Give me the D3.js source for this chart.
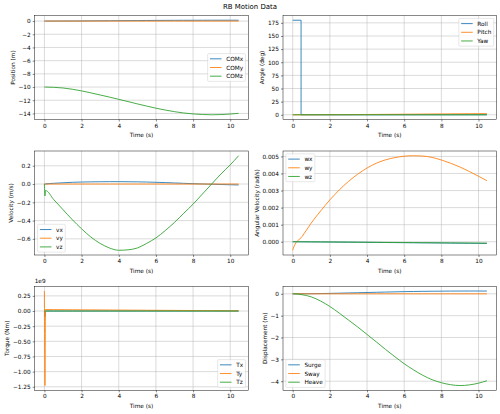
<!DOCTYPE html>
<html>
<head>
<meta charset="utf-8">
<script src="https://cdn.jsdelivr.net/npm/d3@7"></script>
<style>
  body { margin: 0; background: #fff; }
  svg { display: block; font-family: "DejaVu Sans", sans-serif; }
</style>
</head>
<body>
<svg id="chart" width="500" height="414"></svg>
<script>
// sample times (s), shared by most series
const time = [0, 0.03, 0.06, 0.5, 1, 1.5, 2, 2.5, 3, 3.5, 4, 4.5, 5, 5.5, 6, 6.5, 7, 7.5, 8, 8.5, 9, 9.5, 10, 10.45];

const comX = [0, 0, 0, 0.002, 0.006, 0.012, 0.02, 0.03, 0.04, 0.05, 0.06, 0.07, 0.08, 0.09, 0.1, 0.107, 0.113, 0.118, 0.122, 0.125, 0.127, 0.128, 0.128, 0.127];
const comY = [0, 0, 0, 0, 0, 0, 0, 0, 0, 0, 0, 0, 0, 0, 0, 0, 0, 0, 0, 0, 0, 0, 0, 0];
const comZ = [-10, -10, -10, -10.04, -10.14, -10.33, -10.58, -10.88, -11.2, -11.52, -11.86, -12.2, -12.55, -12.88, -13.2, -13.48, -13.73, -13.93, -14.07, -14.16, -14.2, -14.17, -14.09, -13.98];

const rollTime = [0, 0.45, 0.45, 10.45];
const roll = [180, 180, 0, 0];
const pitch = [0, 0, 0, 0.01, 0.04, 0.09, 0.16, 0.24, 0.33, 0.43, 0.54, 0.66, 0.79, 0.92, 1.06, 1.2, 1.34, 1.48, 1.62, 1.76, 1.89, 2.01, 2.13, 2.23];
const yaw = [0, 0, 0, 0, 0, 0, 0, 0, 0, 0, 0, 0, 0, 0, 0, 0, 0, 0, 0, 0, 0, 0, 0, 0];

const vx = [0, 0, 0.001, 0.008, 0.014, 0.019, 0.022, 0.024, 0.025, 0.026, 0.026, 0.025, 0.024, 0.022, 0.019, 0.016, 0.012, 0.008, 0.004, 0.001, -0.002, -0.005, -0.008, -0.01];
const vy = [0, 0, 0, 0, 0, 0, 0, 0, 0, 0, 0, 0, 0, 0, 0, 0, 0, 0, 0, 0, 0, 0, 0, 0];
const vz = [0, -0.13, -0.07, -0.17, -0.28, -0.39, -0.49, -0.58, -0.65, -0.70, -0.725, -0.72, -0.70, -0.65, -0.59, -0.51, -0.42, -0.32, -0.22, -0.11, 0.0, 0.11, 0.21, 0.31];

const wx = [0, 0, 0, -0.000004, -0.000008, -0.000012, -0.000016, -0.00002, -0.000025, -0.00003, -0.000035, -0.00004, -0.000045, -0.00005, -0.000055, -0.00006, -0.000065, -0.00007, -0.000075, -0.00008, -0.000085, -0.00009, -0.000095, -0.0001];
const wy = [-0.0005, -0.0004, -0.0003, 0.0003, 0.0011, 0.0018, 0.00245, 0.00303, 0.00353, 0.00396, 0.00432, 0.0046, 0.0048, 0.00493, 0.00501, 0.00504, 0.00502, 0.00494, 0.00479, 0.0046, 0.00438, 0.00412, 0.00384, 0.00358];
const wz = [0, 0, 0, -0.000003, -0.000006, -0.00001, -0.000014, -0.000018, -0.000022, -0.000026, -0.00003, -0.000034, -0.000038, -0.000042, -0.000046, -0.00005, -0.000054, -0.000058, -0.000062, -0.000066, -0.00007, -0.000074, -0.000078, -0.00008];

const tx = [0, -1e8, 0, 0, 0, 0, 0, 0, 0, 0, 0, 0, 0, 0, 0, 0, 0, 0, 0, 0, 0, 0, 0, 0];
const ty = [3.3e8, -1.23e9, 2.5e7, 2.3e7, 2.2e7, 2.1e7, 2.0e7, 1.9e7, 1.8e7, 1.7e7, 1.6e7, 1.5e7, 1.4e7, 1.3e7, 1.2e7, 1.1e7, 1.0e7, 0.9e7, 0.8e7, 0.7e7, 0.6e7, 0.5e7, 0.4e7, 0.3e7];
const tz = [0, 0, 0, 0, 0, 0, 0, 0, 0, 0, 0, 0, 0, 0, 0, 0, 0, 0, 0, 0, 0, 0, 0, 0];

const surge = [0, 0, 0, 0.002, 0.006, 0.012, 0.02, 0.03, 0.04, 0.05, 0.06, 0.07, 0.08, 0.09, 0.1, 0.107, 0.113, 0.118, 0.122, 0.125, 0.127, 0.128, 0.128, 0.127];
const sway = [0, 0, 0, 0, 0, 0, 0, 0, 0, 0, 0, 0, 0, 0, 0, 0, 0, 0, 0, 0, 0, 0, 0, 0];
const heave = [0, 0, 0, -0.04, -0.14, -0.33, -0.58, -0.88, -1.2, -1.52, -1.86, -2.2, -2.55, -2.88, -3.2, -3.48, -3.73, -3.93, -4.07, -4.16, -4.2, -4.17, -4.09, -3.98];

// tick labels
const timeTicks = [0, 2, 4, 6, 8, 10];
const positionTicks = [0, -2, -4, -6, -8, -10, -12, -14];
const angleTicks = [0, 25, 50, 75, 100, 125, 150, 175];
const velocityTicks = [0.2, 0, -0.2, -0.4, -0.6];
const angVelTicks = [0, 0.001, 0.002, 0.003, 0.004, 0.005];
const torqueTicks = [0.25e9, 0, -0.25e9, -0.5e9, -0.75e9, -1e9, -1.25e9];
const dispTicks = [0, -1, -2, -3, -4];

const colors = ['#1f77b4', '#ff7f0e', '#2ca02c'];

const S = 41.67 / 72;          // px per pt
const FS = 10 * S;             // base font size
const AW = 213.6, AH = 104;    // axes size
const colX = [34.7, 283];
const rowY = [15.5, 151, 286.3];

const panels = [
  { col: 0, row: 0, ylabel: 'Position (m)', ticks: positionTicks, fmt: d3.format('d'), legend: 'center right',
    series: [['COMx', time, comX], ['COMy', time, comY], ['COMz', time, comZ]] },
  { col: 1, row: 0, ylabel: 'Angle (deg)', ticks: angleTicks, fmt: d3.format('d'), legend: 'upper right',
    series: [['Roll', rollTime, roll], ['Pitch', time, pitch], ['Yaw', time, yaw]] },
  { col: 0, row: 1, ylabel: 'Velocity (m/s)', ticks: velocityTicks, fmt: d3.format('.1f'), legend: 'lower left',
    series: [['vx', time, vx], ['vy', time, vy], ['vz', time, vz]] },
  { col: 1, row: 1, ylabel: 'Angular Velocity (rad/s)', ticks: angVelTicks, fmt: d3.format('.3f'), legend: 'upper left',
    series: [['wx', time, wx], ['wy', time, wy], ['wz', time, wz]] },
  { col: 0, row: 2, ylabel: 'Torque (Nm)', ticks: torqueTicks, fmt: d => d3.format('.2f')(d / 1e9), legend: 'lower right', offset: '1e9',
    series: [['Tx', time, tx], ['Ty', time, ty], ['Tz', time, tz]] },
  { col: 1, row: 2, ylabel: 'Displacement (m)', ticks: dispTicks, fmt: d3.format('d'), legend: 'lower left',
    series: [['Surge', time, surge], ['Sway', time, sway], ['Heave', time, heave]] }
];

const svg = d3.select('#chart');

svg.append('text')
  .attr('x', 250).attr('y', 9)
  .attr('text-anchor', 'middle')
  .attr('font-size', 12 * S)
  .text('RB Motion Data');

panels.forEach((p, i) => {
  const g = svg.append('g').attr('transform', `translate(${colX[p.col]},${rowY[p.row]})`);

  const tExt = d3.extent(p.series.flatMap(s => s[1]));
  const tPad = (tExt[1] - tExt[0]) * 0.05;
  const x = d3.scaleLinear().domain([tExt[0] - tPad, tExt[1] + tPad]).range([0, AW]);

  const yExt = d3.extent(p.series.flatMap(s => s[2]));
  const yPad = (yExt[1] - yExt[0]) * 0.05;
  const y = d3.scaleLinear().domain([yExt[0] - yPad, yExt[1] + yPad]).range([AH, 0]);

  // grid
  g.append('g').selectAll('line').data(timeTicks).join('line')
    .attr('x1', d => x(d)).attr('x2', d => x(d))
    .attr('y1', 0).attr('y2', AH)
    .attr('stroke', '#b0b0b0').attr('stroke-width', 0.8 * S);
  g.append('g').selectAll('line').data(p.ticks).join('line')
    .attr('x1', 0).attr('x2', AW)
    .attr('y1', d => y(d)).attr('y2', d => y(d))
    .attr('stroke', '#b0b0b0').attr('stroke-width', 0.8 * S);

  // lines
  const clipId = 'clip' + i;
  g.append('clipPath').attr('id', clipId)
    .append('rect').attr('width', AW).attr('height', AH);
  const plot = g.append('g').attr('clip-path', `url(#${clipId})`);
  p.series.forEach((s, k) => {
    const line = d3.line()
      .x((d, j) => x(s[1][j]))
      .y(d => y(d))
      .curve(s[0] === 'Roll' ? d3.curveLinear : d3.curveMonotoneX);
    plot.append('path')
      .attr('d', line(s[2]))
      .attr('fill', 'none')
      .attr('stroke', colors[k])
      .attr('stroke-width', 1.5 * S)
      .attr('stroke-linejoin', 'round');
  });

  // spines
  g.append('rect')
    .attr('width', AW).attr('height', AH)
    .attr('fill', 'none')
    .attr('stroke', '#000').attr('stroke-width', 0.8 * S);

  // axes
  const xa = g.append('g').attr('transform', `translate(0,${AH})`)
    .call(d3.axisBottom(x).tickValues(timeTicks).tickFormat(d3.format('d')).tickSize(3.5 * S).tickPadding(3.5 * S));
  const ya = g.append('g')
    .call(d3.axisLeft(y).tickValues(p.ticks).tickFormat(p.fmt).tickSize(3.5 * S).tickPadding(3.5 * S));
  [xa, ya].forEach(a => {
    a.attr('font-family', null).attr('font-size', FS);
    a.select('.domain').remove();
    a.selectAll('line').attr('stroke', '#000').attr('stroke-width', 0.8 * S);
  });

  g.append('text')
    .attr('x', AW / 2).attr('y', AH + 17.5)
    .attr('text-anchor', 'middle')
    .attr('font-size', FS)
    .text('Time (s)');

  const tw = d3.max(ya.selectAll('text').nodes(), n => n.getComputedTextLength());
  g.append('text')
    .attr('transform', `translate(${-7 * S - tw - 4 * S - 0.24 * FS},${AH / 2}) rotate(-90)`)
    .attr('text-anchor', 'middle')
    .attr('font-size', FS)
    .text(p.ylabel);

  if (p.offset) {
    g.append('text')
      .attr('x', 0).attr('y', -3)
      .attr('font-size', FS)
      .text(p.offset);
  }

  // legend
  const leg = g.append('g');
  const box = leg.append('rect')
    .attr('fill', 'white').attr('fill-opacity', 0.8)
    .attr('stroke', '#cccccc').attr('stroke-width', 0.8 * S)
    .attr('rx', 0.2 * FS).attr('ry', 0.2 * FS);
  const bp = 0.4 * FS, hl = 2 * FS, htp = 0.8 * FS, pitchY = 1.5 * FS;
  let maxW = 0;
  p.series.forEach((s, k) => {
    const cy = bp + FS * 0.5 + k * pitchY;
    leg.append('line')
      .attr('x1', bp).attr('x2', bp + hl)
      .attr('y1', cy).attr('y2', cy)
      .attr('stroke', colors[k]).attr('stroke-width', 1.5 * S);
    const t = leg.append('text')
      .attr('x', bp + hl + htp).attr('y', cy)
      .attr('dy', '0.36em')
      .attr('font-size', FS)
      .text(s[0]);
    maxW = Math.max(maxW, t.node().getComputedTextLength());
  });
  const lw = 2 * bp + hl + htp + maxW;
  const lh = 2 * bp + FS + 2 * pitchY;
  box.attr('width', lw).attr('height', lh);
  const ba = 0.5 * FS;
  let lx = ba, ly = ba;
  if (p.legend.includes('right')) lx = AW - ba - lw;
  if (p.legend.includes('lower')) ly = AH - ba - lh;
  if (p.legend.startsWith('center')) ly = (AH - lh) / 2;
  leg.attr('transform', `translate(${lx},${ly})`);
});
</script>
</body>
</html>
